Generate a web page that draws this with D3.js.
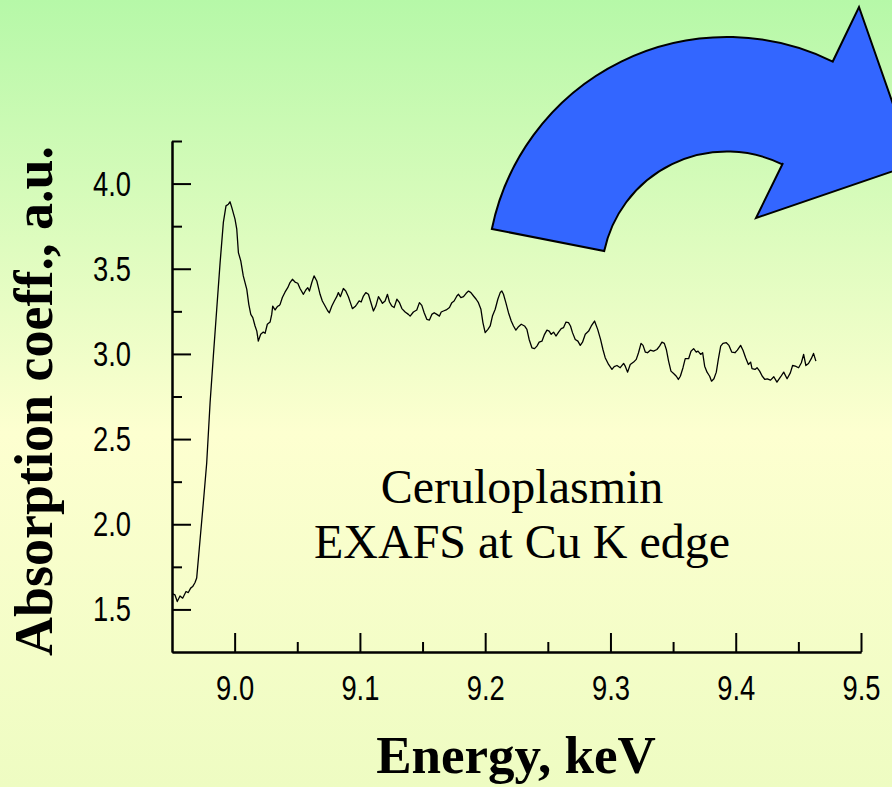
<!DOCTYPE html>
<html>
<head>
<meta charset="utf-8">
<script src="https://cdn.jsdelivr.net/npm/d3@7"></script>
<style>
  html, body { margin: 0; padding: 0; overflow: hidden; }
  svg { display: block; }
</style>
</head>
<body>
<script>
// Data
var energy = [
  8.9506, 8.9524, 8.9542, 8.9564, 8.9585, 8.9612, 8.9630, 8.9649, 8.9665, 8.9684,
  8.9697, 8.9724, 8.9750, 8.9777, 8.9804, 8.9830, 8.9857, 8.9884, 8.9910, 8.9931,
  8.9950, 8.9963, 8.9977, 9.0003, 9.0017, 9.0030, 9.0049, 9.0069, 9.0097, 9.0113,
  9.0129, 9.0145, 9.0163, 9.0177, 9.0189, 9.0208, 9.0229, 9.0243, 9.0261, 9.0283,
  9.0296, 9.0304, 9.0323, 9.0341, 9.0357, 9.0363, 9.0381, 9.0403, 9.0424, 9.0442,
  9.0461, 9.0482, 9.0504, 9.0522, 9.0549, 9.0568, 9.0584, 9.0597, 9.0616, 9.0634,
  9.0656, 9.0669, 9.0682, 9.0700, 9.0722, 9.0744, 9.0756, 9.0776, 9.0796, 9.0815,
  9.0828, 9.0844, 9.0868, 9.0887, 9.0908, 9.0924, 9.0940, 9.0962, 9.0975, 9.0994,
  9.1010, 9.1028, 9.1047, 9.1068, 9.1084, 9.1108, 9.1127, 9.1148, 9.1169, 9.1180,
  9.1201, 9.1220, 9.1236, 9.1255, 9.1273, 9.1295, 9.1316, 9.1335, 9.1361, 9.1387,
  9.1401, 9.1427, 9.1454, 9.1475, 9.1494, 9.1513, 9.1534, 9.1555, 9.1574, 9.1593,
  9.1614, 9.1635, 9.1649, 9.1667, 9.1689, 9.1715, 9.1734, 9.1752, 9.1774, 9.1787,
  9.1806, 9.1827, 9.1848, 9.1867, 9.1886, 9.1907, 9.1928, 9.1946, 9.1966, 9.1982,
  9.2000, 9.2022, 9.2040, 9.2058, 9.2080, 9.2101, 9.2120, 9.2133, 9.2146, 9.2165,
  9.2186, 9.2208, 9.2226, 9.2245, 9.2266, 9.2288, 9.2314, 9.2333, 9.2351, 9.2373,
  9.2394, 9.2413, 9.2431, 9.2453, 9.2474, 9.2493, 9.2511, 9.2527, 9.2546, 9.2565,
  9.2586, 9.2607, 9.2625, 9.2645, 9.2665, 9.2681, 9.2697, 9.2719, 9.2740, 9.2759,
  9.2777, 9.2799, 9.2826, 9.2847, 9.2873, 9.2898, 9.2921, 9.2940, 9.2958, 9.2985,
  9.3012, 9.3030, 9.3052, 9.3078, 9.3105, 9.3118, 9.3137, 9.3158, 9.3185, 9.3206,
  9.3224, 9.3244, 9.3260, 9.3278, 9.3296, 9.3318, 9.3344, 9.3371, 9.3392, 9.3411,
  9.3430, 9.3446, 9.3464, 9.3483, 9.3504, 9.3526, 9.3542, 9.3558, 9.3579, 9.3597,
  9.3624, 9.3643, 9.3664, 9.3685, 9.3699, 9.3720, 9.3736, 9.3752, 9.3771, 9.3792,
  9.3807, 9.3826, 9.3845, 9.3861, 9.3880, 9.3898, 9.3925, 9.3946, 9.3968, 9.3994,
  9.4013, 9.4039, 9.4058, 9.4079, 9.4101, 9.4119, 9.4130, 9.4154, 9.4170, 9.4191,
  9.4212, 9.4233, 9.4252, 9.4278, 9.4304, 9.4329, 9.4359, 9.4383, 9.4410, 9.4436,
  9.4454, 9.4476, 9.4502, 9.4524, 9.4542, 9.4560, 9.4581, 9.4603, 9.4621, 9.4640
];
var absorption = [
  1.591, 1.585, 1.546, 1.579, 1.566, 1.605, 1.599, 1.625, 1.634, 1.658,
  1.684, 1.909, 2.125, 2.360, 2.713, 2.987, 3.262, 3.536, 3.772, 3.869,
  3.879, 3.893, 3.860, 3.791, 3.732, 3.595, 3.546, 3.458, 3.379, 3.291,
  3.232, 3.213, 3.164, 3.134, 3.075, 3.115, 3.128, 3.121, 3.174, 3.187,
  3.232, 3.281, 3.258, 3.278, 3.285, 3.291, 3.331, 3.364, 3.389, 3.419,
  3.438, 3.422, 3.415, 3.384, 3.350, 3.375, 3.389, 3.369, 3.419, 3.458,
  3.428, 3.389, 3.350, 3.311, 3.281, 3.252, 3.242, 3.281, 3.311, 3.336,
  3.360, 3.336, 3.384, 3.369, 3.336, 3.301, 3.266, 3.278, 3.291, 3.311,
  3.305, 3.340, 3.360, 3.350, 3.311, 3.252, 3.281, 3.336, 3.311, 3.297,
  3.311, 3.350, 3.305, 3.281, 3.272, 3.321, 3.301, 3.266, 3.246, 3.232,
  3.222, 3.246, 3.258, 3.301, 3.285, 3.242, 3.203, 3.199, 3.232, 3.242,
  3.232, 3.222, 3.246, 3.252, 3.258, 3.272, 3.301, 3.311, 3.340, 3.350,
  3.331, 3.336, 3.356, 3.369, 3.360, 3.340, 3.321, 3.301, 3.262, 3.184,
  3.125, 3.144, 3.164, 3.222, 3.262, 3.321, 3.360, 3.369, 3.350, 3.301,
  3.242, 3.193, 3.164, 3.140, 3.160, 3.174, 3.164, 3.144, 3.085, 3.036,
  3.031, 3.046, 3.069, 3.075, 3.115, 3.140, 3.134, 3.115, 3.128, 3.105,
  3.128, 3.148, 3.154, 3.187, 3.184, 3.164, 3.125, 3.085, 3.075, 3.050,
  3.069, 3.115, 3.134, 3.164, 3.193, 3.144, 3.085, 3.026, 2.978, 2.938,
  2.909, 2.925, 2.932, 2.919, 2.944, 2.928, 2.893, 2.938, 2.952, 2.968,
  3.007, 3.062, 3.050, 3.011, 3.007, 3.022, 3.016, 3.026, 3.046, 3.069,
  3.062, 3.026, 2.958, 2.899, 2.885, 2.869, 2.850, 2.869, 2.919, 2.972,
  2.972, 3.016, 3.031, 3.011, 3.016, 2.997, 3.007, 2.928, 2.893, 2.869,
  2.840, 2.854, 2.893, 2.968, 3.046, 3.062, 3.066, 3.050, 3.011, 3.007,
  3.022, 3.050, 3.022, 2.978, 2.938, 2.952, 2.913, 2.909, 2.919, 2.899,
  2.869, 2.850, 2.854, 2.846, 2.866, 2.834, 2.866, 2.893, 2.854, 2.889,
  2.932, 2.928, 2.919, 2.948, 2.997, 2.932, 2.944, 2.972, 3.003, 2.958
];

// Tick values
var xMajor = [9.0, 9.1, 9.2, 9.3, 9.4, 9.5];
var xMinor = [9.05, 9.15, 9.25, 9.35, 9.45];
var yMajor = [1.5, 2.0, 2.5, 3.0, 3.5, 4.0];
var yMinor = [1.75, 2.25, 2.75, 3.25, 3.75, 4.25];

var labelLines = ["Ceruloplasmin", "EXAFS at Cu K edge"];

// Constants
var w = 892,
    h = 787,
    plotLeft = 172,
    plotRight = 861,
    plotTop = 141,
    plotBottom = 652,
    squeeze = 0.76; // tick labels are narrow in the original

var serif = "'Liberation Serif', 'Times New Roman', serif";
var sans = "'Liberation Sans', Arial, sans-serif";

var svg = d3.select('body')
            .append('svg')
            .attr('width', w)
            .attr('height', h);

// Background: green at the top fading to pale yellow
var grad = svg.append('defs')
              .append('linearGradient')
              .attr('id', 'bg')
              .attr('x1', 0).attr('y1', 0)
              .attr('x2', 0).attr('y2', 1);
grad.append('stop').attr('offset', '0%').attr('stop-color', '#b6f8a8');
grad.append('stop').attr('offset', '55%').attr('stop-color', '#fdffd0');
grad.append('stop').attr('offset', '100%').attr('stop-color', '#eefcc2');

svg.append('rect')
   .attr('width', w)
   .attr('height', h)
   .attr('fill', 'url(#bg)');

// Scales
var xScale = d3.scaleLinear()
               .domain([8.95, 9.5])
               .range([plotLeft, plotRight]);

var yScale = d3.scaleLinear()
               .domain([1.25, 4.25])
               .range([plotBottom, plotTop]);

// Axes, ticks point inward
var xAxis = d3.axisBottom(xScale)
              .tickValues(xMajor)
              .tickFormat(d3.format('.1f'))
              .tickSizeInner(-19)
              .tickSizeOuter(0)
              .tickPadding(22);

var xAxisMinor = d3.axisBottom(xScale)
                   .tickValues(xMinor)
                   .tickFormat('')
                   .tickSizeInner(-10)
                   .tickSizeOuter(0);

var yAxis = d3.axisLeft(yScale)
              .tickValues(yMajor)
              .tickFormat(d3.format('.1f'))
              .tickSizeInner(-19)
              .tickSizeOuter(0)
              .tickPadding(41);

var yAxisMinor = d3.axisLeft(yScale)
                   .tickValues(yMinor)
                   .tickFormat('')
                   .tickSizeInner(-10)
                   .tickSizeOuter(0);

function styleAxis(g) {
  g.select('.domain').attr('stroke', '#000').attr('stroke-width', 2);
  g.selectAll('.tick line').attr('stroke', '#000').attr('stroke-width', 2);
  g.selectAll('.tick text')
   .attr('fill', '#000')
   .style('font-family', sans)
   .style('font-size', '36px');
}

svg.append('g')
   .attr('transform', 'translate(0,' + plotBottom + ')')
   .call(xAxisMinor)
   .call(styleAxis);

var gx = svg.append('g')
   .attr('class', 'x axis')
   .attr('transform', 'translate(0,' + plotBottom + ')')
   .call(xAxis)
   .call(styleAxis);
gx.selectAll('.tick text')
  .attr('transform', 'scale(' + squeeze + ',1)');

svg.append('g')
   .attr('transform', 'translate(' + plotLeft + ',0)')
   .call(yAxisMinor)
   .call(styleAxis);

var gy = svg.append('g')
   .attr('class', 'y axis')
   .attr('transform', 'translate(' + plotLeft + ',0)')
   .call(yAxis)
   .call(styleAxis);
gy.selectAll('.tick text')
  .attr('x', -41 / squeeze)
  .attr('transform', 'scale(' + squeeze + ',1)');

// Spectrum line
var points = energy.map(function(e, i) { return [e, absorption[i]]; });

var line = d3.line()
             .x(function(d) { return xScale(d[0]); })
             .y(function(d) { return yScale(d[1]); });

svg.append('path')
   .datum(points)
   .attr('d', line)
   .attr('fill', 'none')
   .attr('stroke', '#000')
   .attr('stroke-width', 1.3)
   .attr('stroke-linejoin', 'round');

// Axis titles
svg.append('text')
   .attr('x', 516)
   .attr('y', 773)
   .attr('text-anchor', 'middle')
   .style('font-family', serif)
   .style('font-weight', 'bold')
   .style('font-size', '53px')
   .text('Energy, keV');

svg.append('text')
   .attr('transform', 'translate(52,401) rotate(-90)')
   .attr('text-anchor', 'middle')
   .style('font-family', serif)
   .style('font-weight', 'bold')
   .style('font-size', '54px')
   .text('Absorption coeff., a.u.');

// Inner caption
svg.append('g')
   .selectAll('text')
   .data(labelLines)
   .enter()
   .append('text')
   .attr('x', 522)
   .attr('y', function(d, i) { return 503 + i * 55; })
   .attr('text-anchor', 'middle')
   .style('font-family', serif)
   .style('font-size', '48px')
   .text(function(d) { return d; });

// Curved blue arrow (decoration in the top right corner)
var cx = 727, cy = 277, rOut = 240, rIn = 125.5;
var arrow = d3.path();
arrow.moveTo(492, 229);
arrow.arc(cx, cy, rOut, Math.atan2(229 - cy, 492 - cx), Math.atan2(61 - cy, 833 - cx), false);
arrow.lineTo(859, 7);
arrow.lineTo(914, 164);
arrow.lineTo(756, 218);
arrow.lineTo(783, 163);
arrow.arc(cx, cy, rIn, Math.atan2(163 - cy, 783 - cx), Math.atan2(251 - cy, 604 - cx), true);
arrow.closePath();

svg.append('path')
   .attr('d', arrow.toString())
   .attr('fill', '#3366ff')
   .attr('stroke', '#000')
   .attr('stroke-width', 2)
   .attr('stroke-linejoin', 'miter');
</script>
</body>
</html>
